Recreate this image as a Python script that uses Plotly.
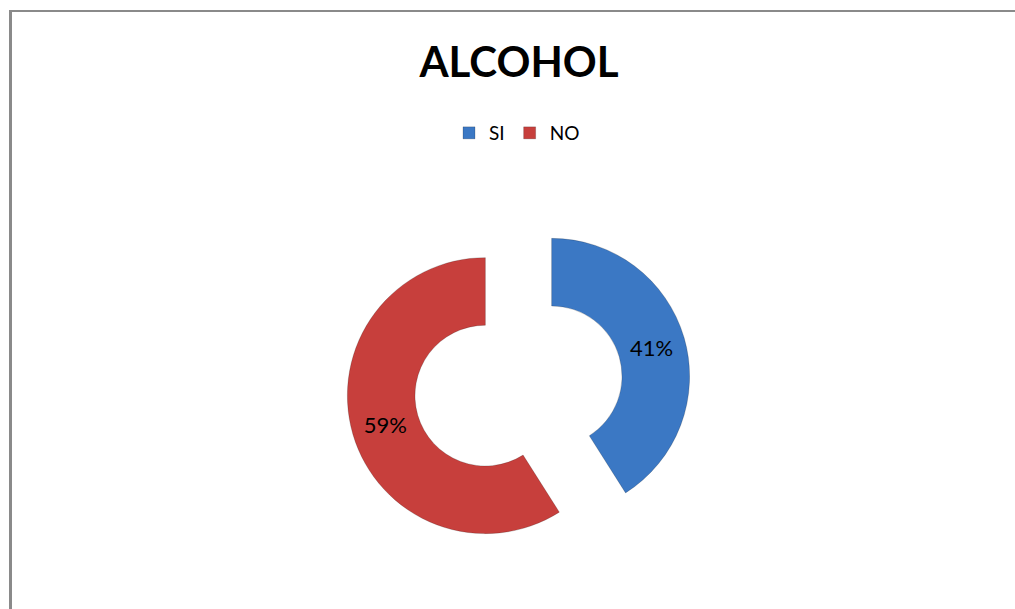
import plotly.graph_objects as go

categories = ["SI", "NO"]
values = [41, 59]
colors = ["#3b78c4", "#c73f3c"]
title_text = "ALCOHOL"

W, H = 1015, 609

fig = go.Figure()
fig.add_trace(go.Pie(
    labels=categories,
    values=values,
    hole=0.51,
    sort=False,
    direction="clockwise",
    rotation=0,
    pull=[0.25, 0.25],
    marker=dict(colors=colors, line=dict(color="rgba(0,0,0,0.18)", width=1)),
    textinfo="percent",
    texttemplate="%{percent:.0%}",
    textposition="inside",
    insidetextorientation="horizontal",
    textfont=dict(family="Lato, Liberation Sans, sans-serif", size=22, color="#000000"),
    domain=dict(x=[346 / W, 691 / W], y=[(H - 558.5) / H, (H - 213.5) / H]),
    showlegend=True,
))

fig.update_layout(
    width=W, height=H,
    margin=dict(l=0, r=0, t=0, b=0),
    paper_bgcolor="white",
    plot_bgcolor="white",
    title=dict(
        text="<b>" + title_text + "</b>",
        x=519 / W, xanchor="center",
        y=1 - 62 / H, yanchor="middle",
        font=dict(family="Lato, Liberation Sans, sans-serif", size=42, color="#000000"),
    ),
    legend=dict(
        orientation="h",
        x=517 / W, xanchor="center",
        y=1 - 133 / H, yanchor="middle",
        font=dict(family="Lato, Liberation Sans, sans-serif", size=19, color="#000000"),
        itemwidth=30,
        traceorder="normal",
    ),
    shapes=[
        dict(type="line", xref="paper", yref="paper",
             x0=9 / W, x1=1.0, y0=1 - 11 / H, y1=1 - 11 / H,
             line=dict(color="#8a8a8a", width=2)),
        dict(type="line", xref="paper", yref="paper",
             x0=10.5 / W, x1=10.5 / W, y0=0, y1=1 - 10 / H,
             line=dict(color="#8a8a8a", width=3)),
    ],
)

fig.write_html(
    "out.html",
    config={"displayModeBar": False},
    post_script="document.body.style.margin='0';document.body.style.overflow='hidden';",
)
